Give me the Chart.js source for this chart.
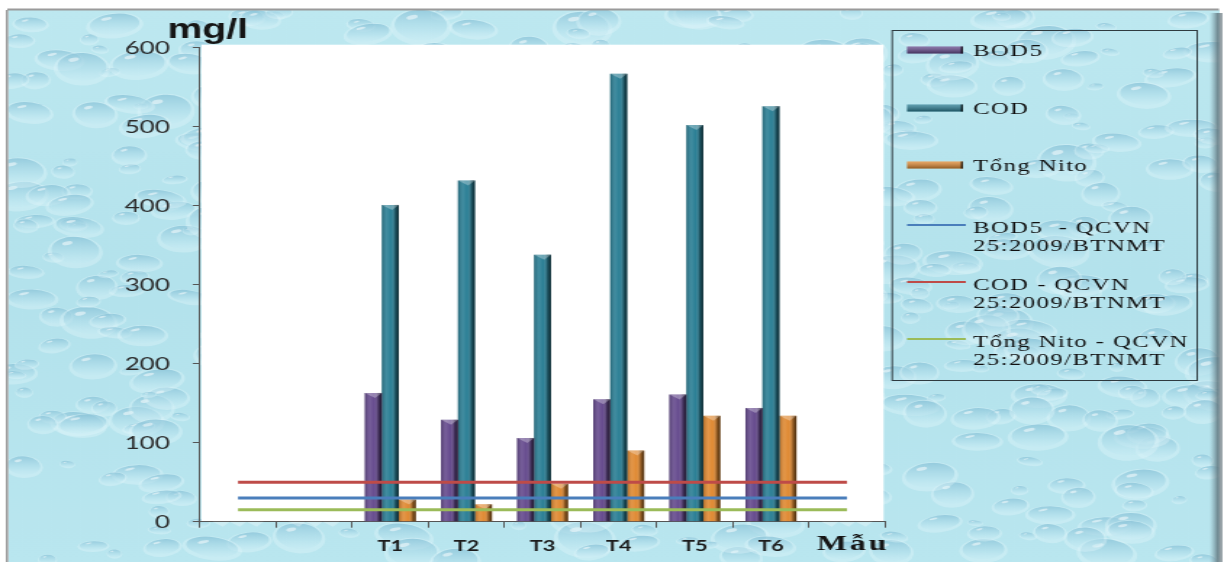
<!DOCTYPE html>
<html>
<head>
<meta charset="utf-8">
<script src="https://cdn.jsdelivr.net/npm/chart.js@4.4.1/dist/chart.umd.min.js"></script>
<style>
  html, body { margin: 0; padding: 0; background: #ffffff; }
  #wrap { width: 1224px; height: 564px; overflow: hidden; }
</style>
</head>
<body>
<div id="wrap"><canvas id="c" width="844" height="564" style="display:block;width:1224px;height:564px"></canvas></div>
<script>
// ---- data ----
const categories = ['', '', 'T1', 'T2', 'T3', 'T4', 'T5', 'T6', ''];
const bod5      = [null, null, 163, 129, 106, 155, 161, 144, null];
const cod       = [null, null, 401, 432, 338, 567, 502, 526, null];
const tongNito  = [null, null, 28, 22, 48, 90, 134, 134, null];
const bod5Qcvn  = [30, 30, 30, 30, 30, 30, 30, 30, 30];
const codQcvn   = [50, 50, 50, 50, 50, 50, 50, 50, 50];
const nitoQcvn  = [15, 15, 15, 15, 15, 15, 15, 15, 15];
const seriesLabels = [
  'BOD5', 'COD', 'Tổng Nito',
  'BOD5  - QCVN 25:2009/BTNMT',
  'COD - QCVN 25:2009/BTNMT',
  'Tổng Nito - QCVN 25:2009/BTNMT'
];
const yMin = 0, yMax = 600, yStep = 100;
const yTitle = 'mg/l';
const xTitle = 'Mẫu';

// ---- styling ----
const barColors  = ['#664b8e', '#2b7f95', '#e08a33'];
const lineColors = ['#4a7ebb', '#be4b48', '#9bbb59'];

// deterministic hash used for the water-drop texture
function hash(i, k) {
  const s = Math.sin(i * 127.1 + k * 311.7) * 43758.5453;
  return s - Math.floor(s);
}

function drawTexture(ctx, x0, y0, x1, y1) {
  ctx.save();
  ctx.beginPath();
  ctx.rect(x0, y0, x1 - x0, y1 - y0);
  ctx.clip();
  const base = ctx.createLinearGradient(0, y0, 0, y1);
  base.addColorStop(0, '#bde8f0');
  base.addColorStop(0.5, '#b3e2ec');
  base.addColorStop(1, '#b9e6ef');
  ctx.fillStyle = base;
  ctx.fillRect(x0, y0, x1 - x0, y1 - y0);
  const n = 560;
  for (let i = 0; i < n; i++) {
    const cx = x0 + hash(i, 1) * (x1 - x0);
    const cy = y0 + hash(i, 2) * (y1 - y0);
    const rx = 5 + hash(i, 3) * 16;
    const ry = rx * 1.45 * (0.32 + hash(i, 4) * 0.3);
    const rot = (hash(i, 5) - 0.5) * 0.5;
    // pale rim, slightly lower
    ctx.beginPath();
    ctx.ellipse(cx, cy + ry * 0.12, rx * 1.04, ry * 1.04, rot, 0, Math.PI * 2);
    ctx.fillStyle = 'rgba(222,246,251,0.4)';
    ctx.fill();
    // body of the drop: darker at the top, lighter toward the bottom
    const g = ctx.createLinearGradient(0, cy - ry, 0, cy + ry);
    g.addColorStop(0, 'rgba(92,166,196,0.5)');
    g.addColorStop(0.6, 'rgba(148,208,226,0.32)');
    g.addColorStop(1, 'rgba(200,238,246,0.18)');
    ctx.beginPath();
    ctx.ellipse(cx, cy, rx * 0.9, ry * 0.86, rot, 0, Math.PI * 2);
    ctx.fillStyle = g;
    ctx.fill();
    // small highlight
    ctx.beginPath();
    ctx.ellipse(cx - rx * 0.3, cy - ry * 0.45, rx * 0.2, ry * 0.12, -0.3, 0, Math.PI * 2);
    ctx.fillStyle = 'rgba(255,255,255,0.5)';
    ctx.fill();
  }
  ctx.restore();
}

const backdrop = {
  id: 'backdrop',
  beforeDraw(chart) {
    const ctx = chart.ctx;
    const W = chart.width, H = chart.height;
    const area = chart.chartArea;
    ctx.save();
    ctx.fillStyle = '#ffffff';
    ctx.fillRect(0, 0, W, H);
    // outer frame
    const fx0 = 5.5, fy0 = 10, fx1 = 841, fy1 = 562;
    drawTexture(ctx, fx0, fy0, fx1, fy1);
    ctx.fillStyle = '#9a9a9a';
    ctx.fillRect(fx0 - 0.5, fy0 - 1.5, fx1 - fx0, 2);
    ctx.fillRect(fx0 - 1.5, fy0, 1.6, fy1 - fy0);
    const edge = ctx.createLinearGradient(834, 0, 843, 0);
    edge.addColorStop(0, 'rgba(120,150,160,0)');
    edge.addColorStop(0.6, 'rgba(90,110,118,0.75)');
    edge.addColorStop(1, 'rgba(150,160,165,0.9)');
    ctx.fillStyle = edge;
    ctx.fillRect(834, fy0 + 3, 9, fy1 - fy0 - 3);
    // plot panel
    ctx.fillStyle = '#ffffff';
    ctx.fillRect(area.left + 1, area.top - 3, area.right - area.left - 2, area.bottom - area.top + 3);
    ctx.restore();
  }
};

// cylinder-like shading on each bar, drawn over the library's bars
const barShade = {
  id: 'barShade',
  afterDatasetDraw(chart, args) {
    const meta = args.meta;
    if (meta.type !== 'bar') return;
    const ctx = chart.ctx;
    ctx.save();
    meta.data.forEach((el) => {
      const p = el.getProps(['x', 'y', 'base', 'width'], true);
      if (el.skip || !isFinite(p.y) || !isFinite(p.base)) return;
      const l = p.x - p.width / 2, r = p.x + p.width / 2;
      const g = ctx.createLinearGradient(l, 0, r, 0);
      g.addColorStop(0, 'rgba(0,0,0,0.22)');
      g.addColorStop(0.3, 'rgba(255,255,255,0.1)');
      g.addColorStop(0.55, 'rgba(255,255,255,0)');
      g.addColorStop(0.8, 'rgba(0,0,0,0.36)');
      g.addColorStop(1, 'rgba(0,0,0,0.68)');
      ctx.fillStyle = g;
      ctx.fillRect(l, p.y, p.width, p.base - p.y);
      ctx.beginPath();
      ctx.moveTo(l, p.y);
      ctx.lineTo(r, p.y);
      ctx.lineTo(p.x + p.width * 0.1, p.y + 5);
      ctx.closePath();
      ctx.fillStyle = 'rgba(255,255,255,0.3)';
      ctx.fill();
    });
    ctx.restore();
  }
};

// legend box on the right plus the two axis captions
const sideLegend = {
  id: 'sideLegend',
  afterDraw(chart) {
    const ctx = chart.ctx;
    ctx.save();
    const bx0 = 615.2, by0 = 30.5, bx1 = 825.5, by1 = 380.5;
    ctx.strokeStyle = '#2f3b40';
    ctx.lineWidth = 1;
    ctx.strokeRect(bx0, by0, bx1 - bx0, by1 - by0);

    const rowY = [52, 110, 167, 229, 286, 343];
    const swX0 = 625.5, swX1 = 664, textX = 671, lineGap = 17.5, maxW = 150;
    ctx.font = '17px "Liberation Serif", "Times New Roman", serif';
    ctx.letterSpacing = '1px';
    ctx.textBaseline = 'middle';
    ctx.textAlign = 'left';
    chart.data.datasets.forEach((ds, i) => {
      const y = rowY[i];
      if (ds.type === 'line') {
        ctx.strokeStyle = ds.borderColor;
        ctx.lineWidth = 2;
        ctx.beginPath();
        ctx.moveTo(swX0, y - 4);
        ctx.lineTo(swX1 + 2, y - 4);
        ctx.stroke();
      } else {
        ctx.fillStyle = ds.backgroundColor;
        ctx.fillRect(swX0, y - 5.5, swX1 - swX0, 7);
        const g = ctx.createLinearGradient(0, y - 5.5, 0, y + 1.5);
        g.addColorStop(0, 'rgba(255,255,255,0.25)');
        g.addColorStop(1, 'rgba(0,0,0,0.35)');
        ctx.fillStyle = g;
        ctx.fillRect(swX0, y - 5.5, swX1 - swX0, 7);
        ctx.fillStyle = 'rgba(0,0,0,0.7)';
        ctx.fillRect(swX1 - 1.5, y - 5.5, 1.5, 7);
      }
      const label = ds.label;
      let lines = [label];
      if (ctx.measureText(label).width > maxW) {
        const k = label.lastIndexOf(' ');
        lines = [label.slice(0, k), label.slice(k + 1)];
      }
      ctx.fillStyle = '#111111';
      lines.forEach((t, j) => ctx.fillText(t, textX, y + j * lineGap));
    });

    // axis captions
    ctx.letterSpacing = '0px';
    ctx.fillStyle = '#151515';
    ctx.font = 'bold 27px "Liberation Sans", Arial, sans-serif';
    ctx.textBaseline = 'alphabetic';
    ctx.textAlign = 'left';
    ctx.fillText(yTitle, 115.5, 38);

    ctx.font = 'bold 22px "Liberation Serif", "Times New Roman", serif';
    ctx.letterSpacing = '2px';
    ctx.textAlign = 'right';
    ctx.fillText(xTitle, chart.scales.x.right + 3, 550);
    ctx.restore();
  }
};

const barDs = (label, data, color) => ({
  type: 'bar', label, data,
  backgroundColor: color, borderWidth: 0,
  barPercentage: 1.0, categoryPercentage: 0.67, order: 1
});
const lineDs = (label, data, color) => ({
  type: 'line', label, data,
  borderColor: color, backgroundColor: color, borderWidth: 3,
  pointRadius: 0, fill: false, tension: 0, order: 0
});

new Chart(document.getElementById('c'), {
  data: {
    labels: categories,
    datasets: [
      barDs(seriesLabels[0], bod5, barColors[0]),
      barDs(seriesLabels[1], cod, barColors[1]),
      barDs(seriesLabels[2], tongNito, barColors[2]),
      lineDs(seriesLabels[3], bod5Qcvn, lineColors[0]),
      lineDs(seriesLabels[4], codQcvn, lineColors[1]),
      lineDs(seriesLabels[5], nitoQcvn, lineColors[2])
    ]
  },
  options: {
    responsive: false,
    animation: false,
    devicePixelRatio: 1,
    events: [],
    layout: { padding: { left: 0, right: 844 - 610.3, top: 47.7, bottom: 0 } },
    plugins: { legend: { display: false }, tooltip: { enabled: false }, title: { display: false } },
    scales: {
      x: {
        type: 'category',
        offset: true,
        grid: { offset: true, drawOnChartArea: false, drawTicks: true, tickLength: 6, color: '#555555' },
        border: { display: true, color: '#555555', width: 1 },
        ticks: {
          color: '#1c1c1c', padding: 9, autoSkip: false, maxRotation: 0,
          font: { family: 'Lato, "Liberation Sans", sans-serif', size: 15, weight: 'bold' }
        },
        afterFit(scale) { scale.height = 42.3; }
      },
      y: {
        min: yMin, max: yMax,
        grid: { drawOnChartArea: false, drawTicks: true, tickLength: 5, color: '#555555' },
        border: { display: true, color: '#555555', width: 1 },
        ticks: {
          stepSize: yStep, color: '#2a2a2a', padding: 15.7,
          font: { family: 'Lato, "Liberation Sans", sans-serif', size: 18 }
        },
        afterFit(scale) { scale.width = 137.9; }
      }
    }
  },
  plugins: [backdrop, barShade, sideLegend]
});
</script>
</body>
</html>
